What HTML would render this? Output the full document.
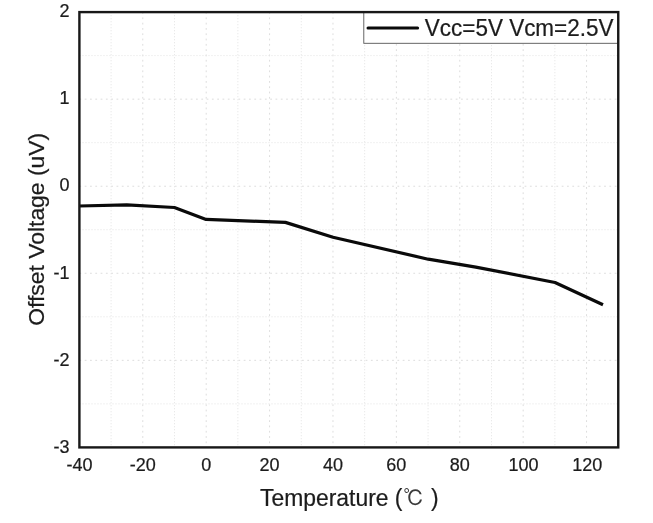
<!DOCTYPE html>
<html lang="en">
<head>
<meta charset="utf-8">
<title>Offset Voltage vs Temperature</title>
<style>
html,body{margin:0;padding:0;background:#fff;}
body{width:653px;height:523px;overflow:hidden;}
svg{display:block;filter:blur(0.3px);}
text{font-family:"Liberation Sans","Noto Sans CJK SC",sans-serif;fill:#1c1c1c;stroke:#1c1c1c;stroke-width:0.22px;}
.tick{font-size:18px;}
.ttl{font-size:22.9px;}
.cjk{font-family:"IPAGothic","Noto Sans CJK JP",sans-serif;font-size:21px;fill:#3a3a3a;stroke:none;}
</style>
</head>
<body>
<svg width="653" height="523" viewBox="0 0 653 523">
<rect x="0" y="0" width="653" height="523" fill="#ffffff"/>

<g fill="none" stroke-width="1">
<line x1="111.10" y1="12.10" x2="111.10" y2="447.40" stroke="#e7e7e7" stroke-dasharray="1.2 1.8"/>
<line x1="142.79" y1="12.10" x2="142.79" y2="447.40" stroke="#dddddd" stroke-dasharray="1.8 3.5"/>
<line x1="174.49" y1="12.10" x2="174.49" y2="447.40" stroke="#e7e7e7" stroke-dasharray="1.2 1.8"/>
<line x1="206.19" y1="12.10" x2="206.19" y2="447.40" stroke="#dddddd" stroke-dasharray="1.8 3.5"/>
<line x1="237.89" y1="12.10" x2="237.89" y2="447.40" stroke="#e7e7e7" stroke-dasharray="1.2 1.8"/>
<line x1="269.58" y1="12.10" x2="269.58" y2="447.40" stroke="#dddddd" stroke-dasharray="1.8 3.5"/>
<line x1="301.28" y1="12.10" x2="301.28" y2="447.40" stroke="#e7e7e7" stroke-dasharray="1.2 1.8"/>
<line x1="332.98" y1="12.10" x2="332.98" y2="447.40" stroke="#dddddd" stroke-dasharray="1.8 3.5"/>
<line x1="364.67" y1="12.10" x2="364.67" y2="447.40" stroke="#e7e7e7" stroke-dasharray="1.2 1.8"/>
<line x1="396.37" y1="12.10" x2="396.37" y2="447.40" stroke="#dddddd" stroke-dasharray="1.8 3.5"/>
<line x1="428.07" y1="12.10" x2="428.07" y2="447.40" stroke="#e7e7e7" stroke-dasharray="1.2 1.8"/>
<line x1="459.76" y1="12.10" x2="459.76" y2="447.40" stroke="#dddddd" stroke-dasharray="1.8 3.5"/>
<line x1="491.46" y1="12.10" x2="491.46" y2="447.40" stroke="#e7e7e7" stroke-dasharray="1.2 1.8"/>
<line x1="523.16" y1="12.10" x2="523.16" y2="447.40" stroke="#dddddd" stroke-dasharray="1.8 3.5"/>
<line x1="554.86" y1="12.10" x2="554.86" y2="447.40" stroke="#e7e7e7" stroke-dasharray="1.2 1.8"/>
<line x1="586.55" y1="12.10" x2="586.55" y2="447.40" stroke="#dddddd" stroke-dasharray="1.8 3.5"/>
<line x1="79.40" y1="403.87" x2="618.25" y2="403.87" stroke="#e7e7e7" stroke-dasharray="1.2 1.8"/>
<line x1="79.40" y1="360.34" x2="618.25" y2="360.34" stroke="#dddddd" stroke-dasharray="1.8 3.5"/>
<line x1="79.40" y1="316.81" x2="618.25" y2="316.81" stroke="#e7e7e7" stroke-dasharray="1.2 1.8"/>
<line x1="79.40" y1="273.28" x2="618.25" y2="273.28" stroke="#dddddd" stroke-dasharray="1.8 3.5"/>
<line x1="79.40" y1="229.75" x2="618.25" y2="229.75" stroke="#e7e7e7" stroke-dasharray="1.2 1.8"/>
<line x1="79.40" y1="186.22" x2="618.25" y2="186.22" stroke="#dddddd" stroke-dasharray="1.8 3.5"/>
<line x1="79.40" y1="142.69" x2="618.25" y2="142.69" stroke="#e7e7e7" stroke-dasharray="1.2 1.8"/>
<line x1="79.40" y1="99.16" x2="618.25" y2="99.16" stroke="#dddddd" stroke-dasharray="1.8 3.5"/>
<line x1="79.40" y1="55.63" x2="618.25" y2="55.63" stroke="#e7e7e7" stroke-dasharray="1.2 1.8"/>
</g>
<polyline fill="none" stroke="#0a0a0a" stroke-width="3.2" stroke-linejoin="round" stroke-linecap="butt" points="79.2,206.0 126.8,204.9 174.4,207.5 206.1,219.4 285.4,222.4 333.0,237.2 428.2,259.2 475.8,267.1 555.0,282.5 603.0,304.8"/>
<rect x="363.8" y="12.1" width="254.4" height="31.2" fill="#ffffff" stroke="#555555" stroke-width="0.9"/>
<line x1="368" y1="28" x2="417.6" y2="28" stroke="#0a0a0a" stroke-width="3" stroke-linecap="round"/>
<text class="ttl" transform="translate(424.8,35.6) scale(1,1.05)" style="font-size:22.5px">Vcc=5V Vcm=2.5V</text>
<rect x="79.4" y="12.1" width="538.85" height="435.30" fill="none" stroke="#181818" stroke-width="2.4"/>
<text class="tick" x="69.6" y="17.15" text-anchor="end">2</text>
<text class="tick" x="69.6" y="104.31" text-anchor="end">1</text>
<text class="tick" x="69.6" y="191.47" text-anchor="end">0</text>
<text class="tick" x="69.6" y="278.63" text-anchor="end">-1</text>
<text class="tick" x="69.6" y="365.79" text-anchor="end">-2</text>
<text class="tick" x="69.6" y="452.95" text-anchor="end">-3</text>
<text class="tick" x="79.40" y="471.2" text-anchor="middle">-40</text>
<text class="tick" x="142.79" y="471.2" text-anchor="middle">-20</text>
<text class="tick" x="206.19" y="471.2" text-anchor="middle">0</text>
<text class="tick" x="269.58" y="471.2" text-anchor="middle">20</text>
<text class="tick" x="332.98" y="471.2" text-anchor="middle">40</text>
<text class="tick" x="396.37" y="471.2" text-anchor="middle">60</text>
<text class="tick" x="459.76" y="471.2" text-anchor="middle">80</text>
<text class="tick" x="523.51" y="471.2" text-anchor="middle">100</text>
<text class="tick" x="587.25" y="471.2" text-anchor="middle">120</text>
<text class="ttl" transform="translate(260,506.0) scale(1,1.03)">Temperature (<tspan class="cjk" x="143.2" y="0.2">℃</tspan><tspan x="164.6" y="0"> )</tspan></text>
<text class="ttl" style="font-size:22.9px" transform="translate(44.1,325.8) rotate(-90)">Offset Voltage (uV)</text>
</svg>
</body>
</html>
